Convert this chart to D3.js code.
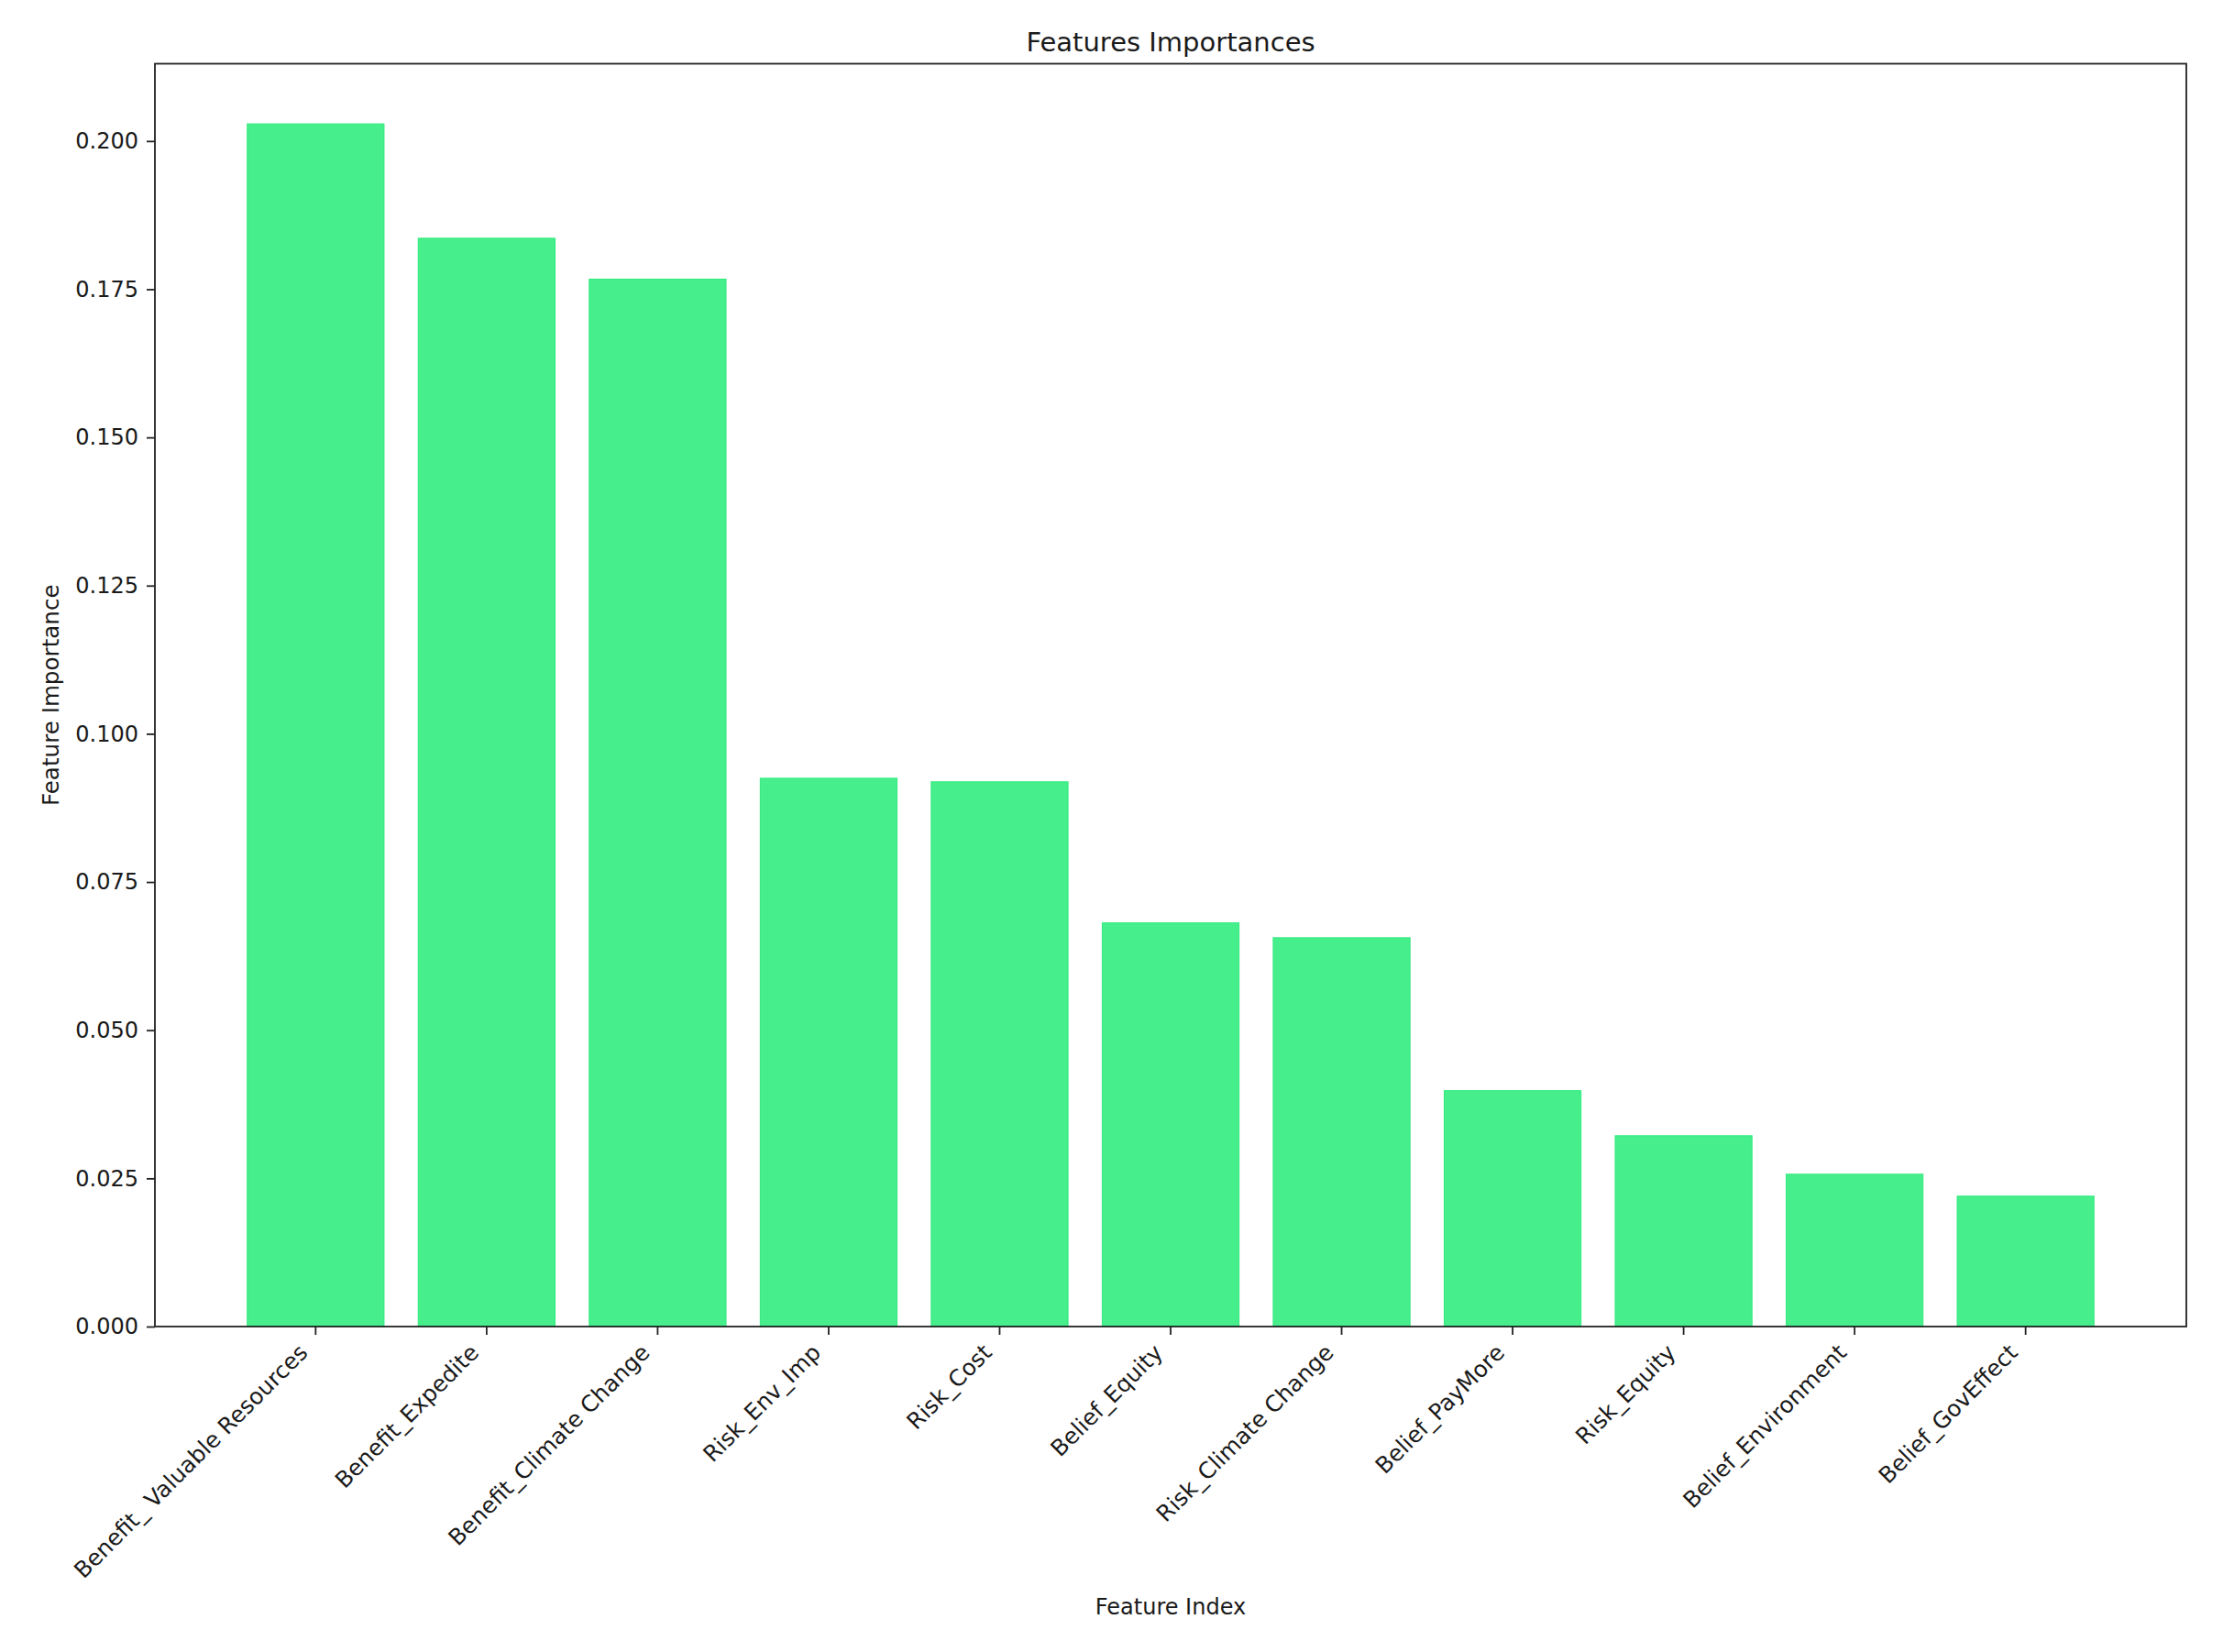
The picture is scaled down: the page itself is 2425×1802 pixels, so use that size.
<!DOCTYPE html>
<html>
<head>
<meta charset="utf-8">
<script src="https://cdn.jsdelivr.net/npm/d3@7"></script>
<style>
  html, body { margin: 0; padding: 0; background: #fff; }
  svg { display: block; }
  text { font-family: "DejaVu Sans", sans-serif; fill: #1a1a1a; }
</style>
</head>
<body>
<script>
const categories = [
  "Benefit_ Valuable Resources",
  "Benefit_Expedite",
  "Benefit_Climate Change",
  "Risk_Env_Imp",
  "Risk_Cost",
  "Belief_Equity",
  "Risk_Climate Change",
  "Belief_PayMore",
  "Risk_Equity",
  "Belief_Environment",
  "Belief_GovEffect"
];
const importances = [0.2029, 0.1836, 0.1767, 0.0925, 0.0919, 0.0681, 0.0656, 0.0398, 0.0322, 0.0257, 0.0220];
const yTicks = [0.000, 0.025, 0.050, 0.075, 0.100, 0.125, 0.150, 0.175, 0.200];
const titleText = "Features Importances";
const xLabelText = "Feature Index";
const yLabelText = "Feature Importance";

(function () {
const W = 2425, H = 1802;
const mLeft = 169, mRight = 2385, mTop = 69.5, mBottom = 1447;
const fs = 24;
const fsX = 24.7;

const svg = d3.select("body").append("svg").attr("width", W).attr("height", H);

const yMax = d3.max(importances) * 1.05;
const y = d3.scaleLinear().domain([0, yMax]).range([mBottom, mTop]);
const x = d3.scaleBand().domain(categories).range([mLeft, mRight])
  .paddingInner(0.2).paddingOuter(0.54);

// bars
svg.append("g").selectAll("rect").data(importances).join("rect")
  .attr("x", (d, i) => x(categories[i]))
  .attr("width", x.bandwidth())
  .attr("y", d => y(d))
  .attr("height", d => mBottom - y(d))
  .attr("fill", "#46EF8B")
  .attr("stroke", "#2FEA7C")
  .attr("stroke-width", 1);

// y axis
const yAxis = d3.axisLeft(y).tickValues(yTicks).tickFormat(d3.format(".3f"))
  .tickSize(9).tickPadding(9);
const gy = svg.append("g").attr("transform", `translate(${mLeft},0)`).call(yAxis);
gy.select(".domain").remove();
gy.selectAll(".tick line").attr("stroke", "#222").attr("stroke-width", 1.8);
gy.selectAll(".tick text").attr("font-size", fs).attr("font-family", "DejaVu Sans").attr("fill", "#1a1a1a");

// x axis
const xAxis = d3.axisBottom(x).tickSize(9).tickFormat("");
const gx = svg.append("g").attr("transform", `translate(0,${mBottom})`).call(xAxis);
gx.select(".domain").remove();
gx.selectAll(".tick line").attr("stroke", "#222").attr("stroke-width", 1.8);

// rotated x tick labels (ha=right, rotation 45)
const asc = 0.76 * fsX, dsc = 0.24 * fsX;
const labelY = mBottom + 9 + 7.7;
svg.append("g").selectAll("text").data(categories).join("text")
  .attr("transform", d => {
    const cx = x(d) + x.bandwidth() / 2 - 3;
    return `translate(${cx - 0.707 * dsc},${labelY + 0.707 * asc}) rotate(-45)`;
  })
  .attr("text-anchor", "end")
  .attr("font-size", fsX)
  .text(d => d);

// frame
svg.append("rect")
  .attr("x", mLeft).attr("y", mTop)
  .attr("width", mRight - mLeft).attr("height", mBottom - mTop)
  .attr("fill", "none").attr("stroke", "#222").attr("stroke-width", 1.8);

// title
svg.append("text")
  .attr("x", (mLeft + mRight) / 2).attr("y", 56)
  .attr("text-anchor", "middle")
  .attr("font-size", 29)
  .text(titleText);

// x label
svg.append("text")
  .attr("x", (mLeft + mRight) / 2).attr("y", 1761)
  .attr("text-anchor", "middle")
  .attr("font-size", fs)
  .text(xLabelText);

// y label
svg.append("text")
  .attr("transform", `translate(64,${(mTop + mBottom) / 2}) rotate(-90)`)
  .attr("text-anchor", "middle")
  .attr("font-size", 24.6)
  .text(yLabelText);
})();
</script>
</body>
</html>
